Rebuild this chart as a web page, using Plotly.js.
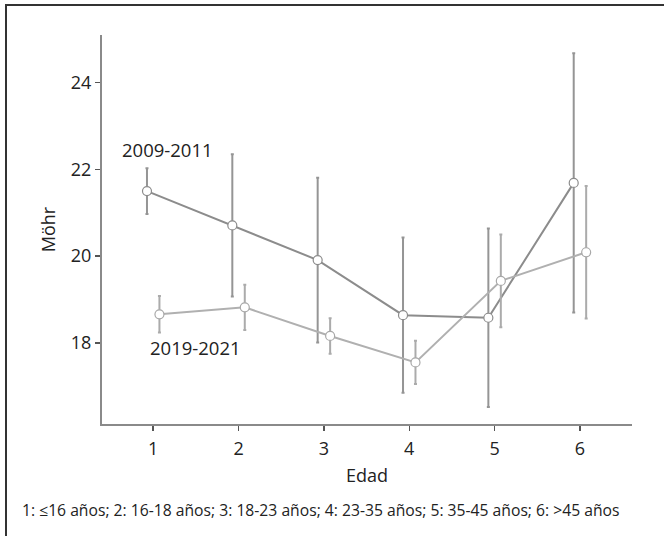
<!DOCTYPE html>
<html>
<head>
<meta charset="utf-8">
<script src="https://cdn.plot.ly/plotly-3.0.1.min.js"></script>
<style>
  html, body { margin: 0; padding: 0; background: #fff; }
  #wrap { position: relative; width: 664px; height: 536px; overflow: hidden; }
  #chart { width: 664px; height: 536px; }
  #frame { position: absolute; left: 5px; top: 4px; width: 700px; height: 600px;
           border-left: 2px solid #333; border-top: 2px solid #333; pointer-events: none; }
</style>
</head>
<body>
<div id="wrap"><div id="chart"></div><div id="frame"></div></div>
<script>
// Age groups (x categories)
const ageGroups = [1, 2, 3, 4, 5, 6];
const tickLabels = ['1', '2', '3', '4', '5', '6'];

// 2009-2011 series: mean and error (±)
const series2009Name = '2009-2011';
const mean2009 = [21.50, 20.71, 19.91, 18.64, 18.58, 21.69];
const err2009  = [0.53, 1.64, 1.90, 1.79, 2.06, 2.99];

// 2019-2021 series: mean and error (±)
const series2019Name = '2019-2021';
const mean2019 = [18.66, 18.82, 18.16, 17.55, 19.43, 20.09];
const err2019  = [0.42, 0.52, 0.41, 0.50, 1.07, 1.53];

const footnote = '1: ≤16 años; 2: 16-18 años; 3: 18-23 años; 4: 23-35 años; 5: 35-45 años; 6: >45 años';

const FONT = 'Open Sans, Noto Sans, sans-serif';
const dodge = 0.073;

const traces = [
  {
    x: ageGroups.map(v => v - dodge), y: mean2009, name: series2009Name,
    type: 'scatter', mode: 'lines+markers',
    line: { color: '#8c8c8c', width: 2 },
    marker: { size: 9, color: '#ffffff', line: { color: '#8c8c8c', width: 1.2 } },
    error_y: { type: 'data', array: err2009, visible: true, color: '#959595', thickness: 2, width: 1.5 },
    cliponaxis: false
  },
  {
    x: ageGroups.map(v => v + dodge), y: mean2019, name: series2019Name,
    type: 'scatter', mode: 'lines+markers',
    line: { color: '#b0b0b0', width: 2 },
    marker: { size: 9, color: '#ffffff', line: { color: '#a8a8a8', width: 1.2 } },
    error_y: { type: 'data', array: err2019, visible: true, color: '#ababab', thickness: 2, width: 1.5 },
    cliponaxis: false
  }
];

const layout = {
  width: 664, height: 536,
  margin: { l: 102, r: 32, t: 35, b: 112 },
  paper_bgcolor: '#ffffff', plot_bgcolor: '#ffffff',
  showlegend: false,
  font: { family: FONT, size: 18, color: '#222' },
  xaxis: {
    range: [0.4, 6.61], tickmode: 'array', tickvals: ageGroups, ticktext: tickLabels,
    showgrid: false, zeroline: false, showline: true, linecolor: '#8a8a8a', linewidth: 2,
    ticks: 'outside', ticklen: 5, tickwidth: 1.5, tickcolor: '#555', ticklabelstandoff: 2,
    tickfont: { family: FONT, size: 18, color: '#222' },
    title: { text: 'Edad', font: { family: FONT, size: 18, color: '#222' }, standoff: 11 }
  },
  yaxis: {
    range: [16.13, 25.1], tickmode: 'array', tickvals: [18, 20, 22, 24],
    showgrid: false, zeroline: false, showline: true, linecolor: '#8a8a8a', linewidth: 2,
    ticks: 'outside', ticklen: 5, tickwidth: 1.5, tickcolor: '#555',
    tickfont: { family: FONT, size: 18, color: '#222' },
    title: { text: 'Möhr', font: { family: FONT, size: 18, color: '#222' }, standoff: 11 }
  },
  annotations: [
    { text: series2009Name, xref: 'x', yref: 'y', x: ageGroups[0] + 0.17, y: 22.47,
      showarrow: false, font: { family: FONT, size: 18.5, color: '#222' } },
    { text: series2019Name, xref: 'x', yref: 'y', x: ageGroups[0] + 0.5, y: 17.9,
      showarrow: false, font: { family: FONT, size: 18.5, color: '#222' } },
    { text: footnote, xref: 'paper', yref: 'paper', x: -0.155, y: -0.222,
      xanchor: 'left', yanchor: 'middle', showarrow: false,
      font: { family: FONT, size: 15.7, color: '#222' } }
  ]
};

Plotly.newPlot('chart', traces, layout, { staticPlot: true, displayModeBar: false });
</script>
</body>
</html>
